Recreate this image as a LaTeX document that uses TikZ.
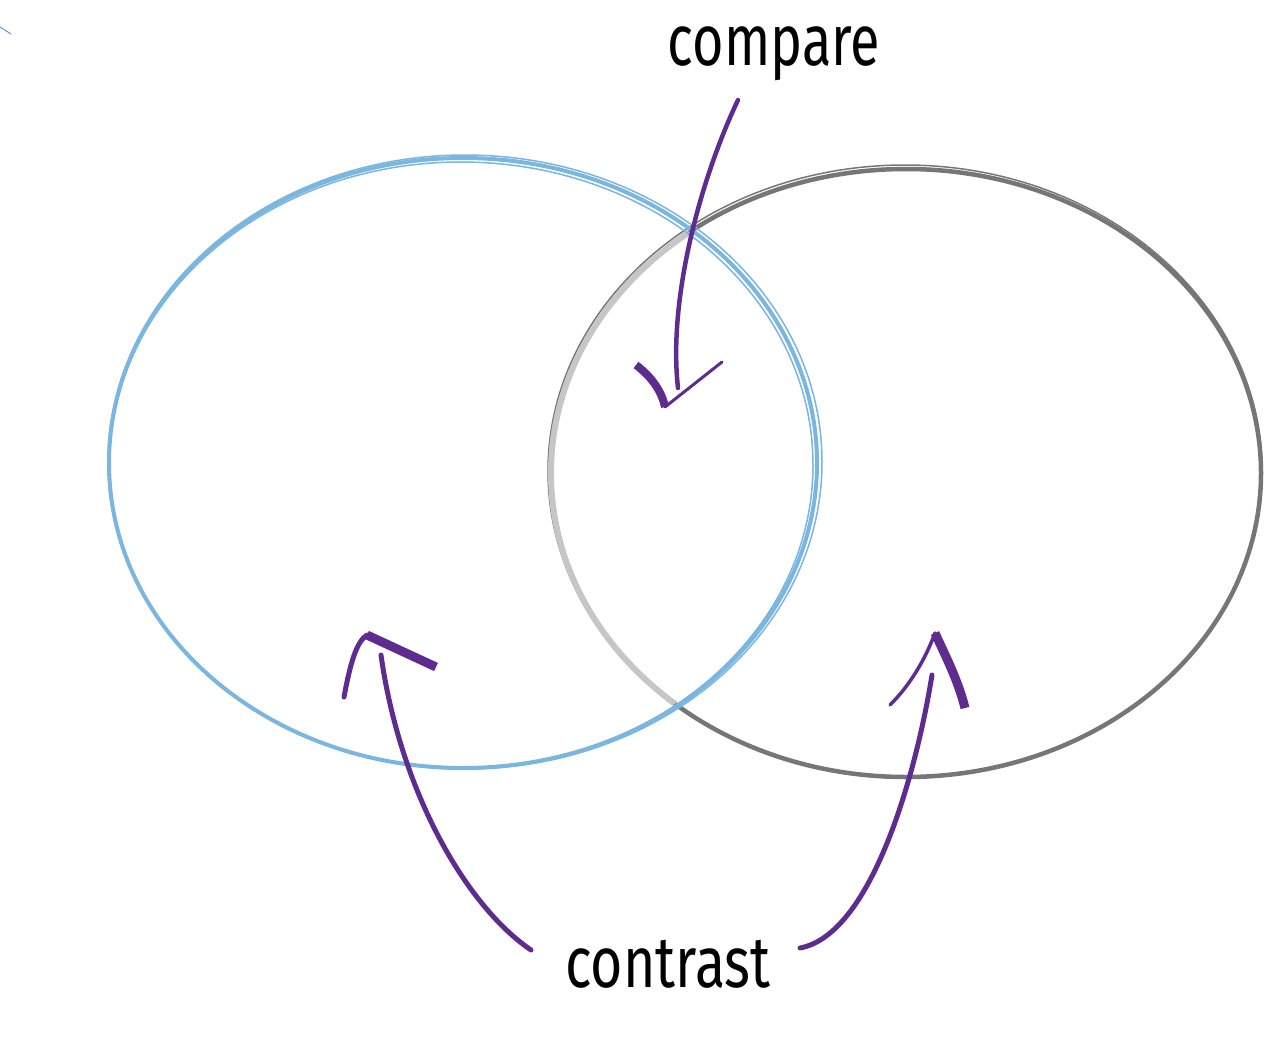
\documentclass[tikz,border=0pt]{standalone}
\usepackage{fontspec}
\setmainfont{Fira Sans}
\definecolor{vblue}{HTML}{7AB6DF}
\definecolor{vgray}{HTML}{767676}
\definecolor{vlgray}{HTML}{C6C6C6}
\definecolor{vpurple}{HTML}{5E2C8E}
\begin{document}
\begin{tikzpicture}[x=1pt,y=-1pt,
  lbl/.style={font=\fontsize{72}{80}\selectfont, text=black, anchor=base, inner sep=0pt},
  shaft/.style={draw=vpurple, line width=5pt, line cap=round},
  headthick/.style={draw=vpurple, line width=9pt, line cap=butt},
  headthin/.style={draw=vpurple, line width=3pt, line cap=round},
  blueline/.style={draw=vblue, line width=4pt},
  bluethin/.style={draw=vblue, line width=1.5pt},
  grayline/.style={draw=vgray, line width=4.5pt},
  graythin/.style={draw=vgray, line width=1.5pt},
  lgrayline/.style={draw=vlgray, line width=6pt}]
\useasboundingbox (0,0) rectangle (1264,1055);

% tiny mark top left
\draw[vblue!80!blue, line width=1pt] (0,27) -- (11,34);

% gray ellipse (dark outside, light inside blue)
\draw[grayline] (906,473) ellipse [x radius=355pt, y radius=304pt];
\draw[graythin] (905,471) ellipse [x radius=357pt, y radius=306pt];
\begin{scope}
  \clip (463,463) ellipse [x radius=351pt, y radius=302pt];
  \draw[lgrayline] (906,473) ellipse [x radius=355pt, y radius=304pt];
\end{scope}

% blue ellipse
\draw[blueline] (463,463) ellipse [x radius=354pt, y radius=305pt];
\draw[bluethin] (465,462) ellipse [x radius=357pt, y radius=307pt];
\draw[bluethin] (461,465) ellipse [x radius=352pt, y radius=303pt];

% labels
\node[lbl] (compare) at (774,65) {\scalebox{0.75}[1]{compare}};
\node[lbl] (contrast) at (668,987) {\scalebox{0.77}[1]{contrast}};

% compare arrow
\coordinate (c1s) at (738,100);
\coordinate (c1e) at (678,388);
\draw[shaft, line width=4.5pt] (c1s) .. controls (700,180) and (668,300) .. (c1e);
\coordinate (c1tip) at (665,407);
\draw[headthick, line width=8pt] (636,365) .. controls (652,377) and (662,392) .. (c1tip);
\draw[headthin] (c1tip) -- (722,362);

% left contrast arrow
\coordinate (c2s) at (531,950);
\coordinate (c2e) at (381,655);
\draw[shaft] (c2s) .. controls (465,905) and (400,790) .. (c2e);
\coordinate (c2tip) at (367,635);
\draw[headthin, line width=5pt] (344,697) .. controls (350,665) and (356,642) .. (c2tip);
\draw[headthick] (c2tip) -- (436,667);

% right contrast arrow
\coordinate (c3s) at (800,948);
\coordinate (c3e) at (932,675);
\draw[shaft] (c3s) .. controls (870,935) and (915,780) .. (c3e);
\coordinate (c3tip) at (935,633);
\draw[headthin, line width=3.5pt] (890,705) .. controls (910,685) and (925,660) .. (c3tip);
\draw[headthick] (c3tip) .. controls (945,655) and (958,680) .. (965,708);
\end{tikzpicture}
\end{document}
